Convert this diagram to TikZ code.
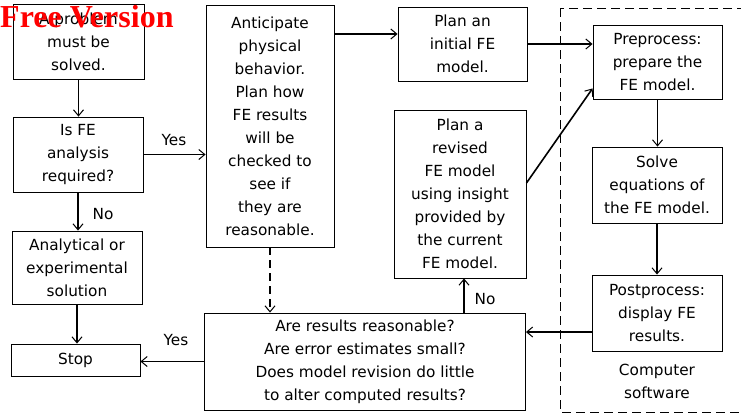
\documentclass[tikz,border=0pt]{standalone}
\usepackage{fontspec}
\setmainfont{DejaVu Sans}
\newfontfamily\wmfont{Liberation Serif}
\usetikzlibrary{arrows.meta,calc}
\begin{document}
\begin{tikzpicture}[x=1pt,y=-1pt,
  box/.style={draw,line width=0.9pt,align=center,inner sep=2pt,
    font=\fontsize{15.3}{23}\selectfont},
  lbl/.style={font=\fontsize{15.3}{23}\selectfont,inner sep=1pt},
  arr/.style={line width=1.6pt,-{Straight Barb[length=6pt,width=10pt,line width=1pt]}},
  darr/.style={arr,dash pattern=on 8pt off 5pt}]
\useasboundingbox (0,0) rectangle (741,416);
\fill[white] (0,0) rectangle (741,416);
% software frame
\draw[line width=0.9pt,dash pattern=on 9pt off 5pt] (560,8) rectangle (760,412);
% boxes
\node[box,minimum width=131pt,minimum height=75pt] (A) at (78.5,41.5) {A problem\\must be\\solved.};
\node[box,minimum width=130pt,minimum height=75pt] (B) at (78,154.5) {Is FE\\analysis\\required?};
\node[box,minimum width=130pt,minimum height=73pt] (C) at (77,267.5) {Analytical or\\experimental\\solution};
\node[box,minimum width=129pt,minimum height=32pt] (S) at (75.5,360) {Stop};
\node[box,minimum width=128pt,minimum height=242pt] (D) at (270,126) {Anticipate\\physical\\behavior.\\Plan how\\FE results\\will be\\checked to\\see if\\they are\\reasonable.};
\node[box,minimum width=129pt,minimum height=74pt] (E) at (462.5,44) {Plan an\\initial FE\\model.};
\node[box,minimum width=132pt,minimum height=168pt] (F) at (460,194) {Plan a\\revised\\FE model\\using insight\\provided by\\the current\\FE model.};
\node[box,minimum width=129pt,minimum height=74pt] (G) at (657.5,62) {Preprocess:\\prepare the\\FE model.};
\node[box,minimum width=130pt,minimum height=76pt] (H) at (657,185) {Solve\\equations of\\the FE model.};
\node[box,minimum width=130pt,minimum height=76pt] (I) at (657,313) {Postprocess:\\display FE\\results.};
\node[box,minimum width=321pt,minimum height=97pt] (J) at (365,361.5) {Are results reasonable?\\Are error estimates small?\\Does model revision do little\\to alter computed results?};
\node[lbl,align=center] (sw) at (657,381) {Computer\\software};
% labels
\node[lbl] (y1) at (174,140) {Yes};
\node[lbl] (n1) at (103,214) {No};
\node[lbl] (y2) at (176,340) {Yes};
\node[lbl] (n2) at (485,299) {No};
% watermark
\node[anchor=base west,inner sep=0pt,text=red,font=\wmfont\bfseries\fontsize{32}{32}\selectfont] (wm) at (0,27) {Free Version};
% connectors
\draw[arr] (A.south) -- (A.south |- B.north);
\draw[arr] (B.south) -- (B.south |- C.north);
\draw[arr] (C.south) -- (C.south |- S.north);
\draw[arr] (B.east) -- (B.east -| D.west);
\coordinate (e1) at ([yshift=10pt]E.west);
\draw[arr] (e1 -| D.east) -- (e1);
\draw[arr] (E.east) -- (E.east -| G.west);
\draw[arr] ([yshift=11pt]F.east) -- ([yshift=11pt]G.south west);
\draw[arr] (G.south) -- (G.south |- H.north);
\draw[arr] (H.south) -- (H.south |- I.north);
\coordinate (i1) at ([yshift=-19pt]I.west);
\draw[arr] (i1) -- (i1 -| J.east);
\draw[arr] (J.west) -- (J.west -| S.east);
\coordinate (nx) at (464,0);
\draw[arr] (J.north -| nx) -- (F.south -| nx);
\draw[darr] (D.south) -- (D.south |- J.north);
\end{tikzpicture}
\end{document}
